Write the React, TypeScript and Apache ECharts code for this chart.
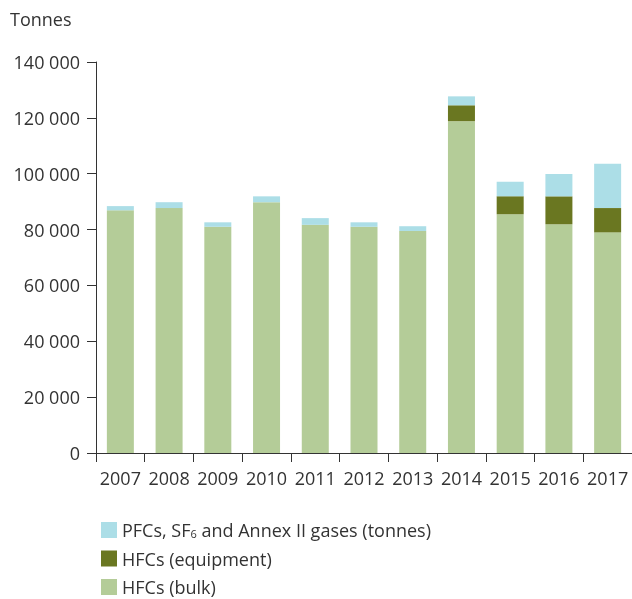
import React, { useEffect, useRef } from "react";
import * as echarts from "echarts";

const years = ["2007", "2008", "2009", "2010", "2011", "2012", "2013", "2014", "2015", "2016", "2017"];
const hfcBulk = [86900, 87700, 81000, 89800, 81700, 81000, 79500, 118800, 85500, 81900, 79000];
const hfcEquipment = [0, 0, 0, 0, 0, 0, 0, 5700, 6400, 10000, 8700];
const pfcOther = [1500, 2100, 1600, 2100, 2400, 1600, 1700, 3200, 5200, 8000, 15900];

const seriesNames = ["PFCs, SF6 and Annex II gases (tonnes)", "HFCs (equipment)", "HFCs (bulk)"];
const colors = { pfc: "#acdee7", equip: "#6a7721", bulk: "#b4cc98" };

const FONT = "'Open Sans', sans-serif";
const TEXT = "#333333";
const FS = 18;

export default function App() {
  const ref = useRef<HTMLDivElement>(null);
  useEffect(() => {
    if (!ref.current) return;
    const chart = echarts.init(ref.current, undefined, { renderer: "svg" });
    const barBase = { type: "bar" as const, stack: "total", barWidth: 27 };
    chart.setOption({
      animation: false,
      textStyle: { fontFamily: FONT, color: TEXT },
      graphic: [
        {
          type: "text",
          left: 10,
          top: 10,
          style: { text: "Tonnes", fontFamily: FONT, fontSize: FS, fill: TEXT },
        },
      ],
      grid: { left: 96, right: 0, top: 62, bottom: 146, containLabel: false },
      legend: {
        orient: "vertical",
        left: 96,
        top: 516,
        height: 120,
        itemWidth: 16,
        itemHeight: 16,
        itemGap: 10.5,
        icon: "rect",
        data: seriesNames,
        formatter: (name: string) =>
          name === seriesNames[0] ? "{t|PFCs, SF}{sub|6}{t| and Annex II gases (tonnes)}" : "{t|" + name + "}",
        textStyle: {
          fontFamily: FONT,
          fontSize: FS,
          color: TEXT,
          rich: {
            t: { fontFamily: FONT, fontSize: FS, color: TEXT, lineHeight: 18 },
            sub: { fontFamily: FONT, fontSize: 11, color: TEXT, lineHeight: 4, verticalAlign: "bottom" },
          },
        },
      },
      xAxis: {
        type: "category",
        data: years,
        boundaryGap: true,
        axisLine: { lineStyle: { color: "#333", width: 1 } },
        axisTick: { show: true, length: 9, alignWithLabel: false, lineStyle: { color: "#333" } },
        axisLabel: { interval: 0, fontFamily: FONT, fontSize: FS, color: TEXT, margin: 16 },
      },
      yAxis: {
        type: "value",
        min: 0,
        max: 140000,
        interval: 20000,
        splitLine: { show: false },
        axisLine: { show: true, lineStyle: { color: "#333", width: 1 } },
        axisTick: { show: true, length: 9, lineStyle: { color: "#333" } },
        axisLabel: {
          fontFamily: FONT,
          fontSize: FS,
          color: TEXT,
          margin: 16,
          formatter: (v: number) => String(v).replace(/\B(?=(\d{3})+(?!\d))/g, " "),
        },
      },
      series: [
        { ...barBase, name: seriesNames[2], data: hfcBulk, itemStyle: { color: colors.bulk } },
        { ...barBase, name: seriesNames[1], data: hfcEquipment, itemStyle: { color: colors.equip } },
        { ...barBase, name: seriesNames[0], data: pfcOther, itemStyle: { color: colors.pfc } },
      ],
    });
    return () => chart.dispose();
  }, []);
  return <div ref={ref} style={{ position: "fixed", left: 0, top: 0, width: 632, height: 599 }} />;
}
